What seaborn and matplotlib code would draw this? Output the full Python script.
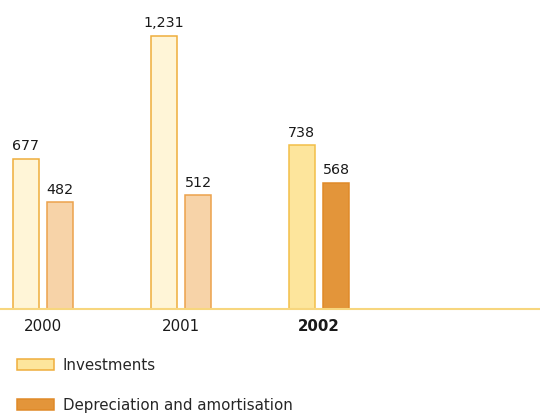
import matplotlib
matplotlib.use("Agg")
import matplotlib.pyplot as plt
from matplotlib.patches import Patch
import seaborn as sns
import pandas as pd

years = ["2000", "2001", "2002"]
investments = [677, 1231, 738]
depreciation = [482, 512, 568]
series = ["Investments", "Depreciation and amortisation"]

# fill / edge colours: earlier years pale, current year saturated
inv_fill = ["#FFF5D7", "#FFF5D7", "#FDE59C"]
inv_edge = ["#EFAE3C", "#EFAE3C", "#F2BF48"]
dep_fill = ["#F7D3A8", "#F7D3A8", "#E3953A"]
dep_edge = ["#ECA24C", "#ECA24C", "#E08A28"]

df = pd.DataFrame({
    "year": years * 2,
    "value": investments + depreciation,
    "series": [series[0]] * 3 + [series[1]] * 3,
})

sns.set_theme(style="white")
plt.rcParams["font.family"] = ["DejaVu Sans"]

fig = plt.figure(figsize=(5.4, 4.13), dpi=100)
ax = fig.add_axes([0, (413 - 309) / 413, 1, 309 / 413])

sns.barplot(data=df, x="year", y="value", hue="series", order=years,
            hue_order=series, width=0.5, gap=0.25, legend=False, ax=ax,
            err_kws={"linewidth": 0})

fills = inv_fill + dep_fill
edges = inv_edge + dep_edge
vals = investments + depreciation
for patch, fc, ec, v in zip(ax.patches, fills, edges, vals):
    patch.set_facecolor(fc)
    patch.set_edgecolor(ec)
    patch.set_linewidth(1.1)
    x = patch.get_x() + patch.get_width() / 2
    ax.annotate(f"{v:,}", (x, v), xytext=(0, 4), textcoords="offset points",
                ha="center", va="bottom", fontsize=10.3, color="#1a1a1a")

ax.set_xlim(-0.312, 3.601)
ax.set_ylim(0, 1393)
for s in ["top", "left", "right"]:
    ax.spines[s].set_visible(False)
ax.spines["bottom"].set_color("#F7D67E")
ax.spines["bottom"].set_linewidth(1.5)
ax.set_yticks([])
ax.set_xlabel("")
ax.set_ylabel("")
ax.tick_params(axis="x", length=0, pad=7, labelsize=10.8, labelcolor="#1a1a1a")
for lab in ax.get_xticklabels():
    if lab.get_text() == "2002":
        lab.set_fontweight("bold")

handles = [Patch(facecolor="#FDE59C", edgecolor="#EFAE3C", linewidth=1.1),
           Patch(facecolor="#E3953A", edgecolor="#E08A28", linewidth=1.1)]
fig.legend(handles, series, loc="upper left", bbox_to_anchor=(11 / 540, 1 - 352 / 413),
           frameon=False, fontsize=10.8, handlelength=2.45, handleheight=0.72,
           handletextpad=0.6, labelspacing=1.65, borderaxespad=0)

fig.savefig("out.png", dpi=100)
